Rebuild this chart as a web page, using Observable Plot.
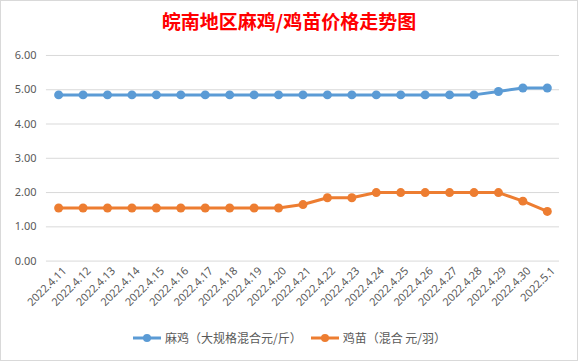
<!DOCTYPE html>
<html><head><meta charset="utf-8">
<script src="https://cdn.jsdelivr.net/npm/d3@7"></script>
<script src="https://cdn.jsdelivr.net/npm/@observablehq/plot@0.6"></script>
<style>
body{margin:0;background:#fff;font-family:"Noto Sans CJK SC","Noto Sans",sans-serif;}
#wrap{position:relative;width:578px;height:361px;box-sizing:border-box;border:1px solid #d9d9d9;overflow:hidden;}
#title{position:absolute;top:8px;left:0;width:576px;text-align:center;color:#ff0000;font-weight:bold;font-size:19px;line-height:24px;font-family:"Noto Sans CJK SC",serif;}
#chart{position:absolute;top:34px;left:-1px;}
#legend{position:absolute;top:329px;left:0;width:576px;display:flex;justify-content:center;gap:8px;font-size:12px;color:#595959;line-height:16px;}
#legend span{display:inline-flex;align-items:center;}
</style></head>
<body><div id="wrap"><div id="title">皖南地区麻鸡/鸡苗价格走势图</div><div id="chart"></div><div id="legend"></div></div>
<script>
const dates = ["2022.4.11","2022.4.12","2022.4.13","2022.4.14","2022.4.15","2022.4.16","2022.4.17","2022.4.18","2022.4.19","2022.4.20","2022.4.21","2022.4.22","2022.4.23","2022.4.24","2022.4.25","2022.4.26","2022.4.27","2022.4.28","2022.4.29","2022.4.30","2022.5.1"];
const maji = [4.85,4.85,4.85,4.85,4.85,4.85,4.85,4.85,4.85,4.85,4.85,4.85,4.85,4.85,4.85,4.85,4.85,4.85,4.95,5.05,5.05];
const jimiao = [1.55,1.55,1.55,1.55,1.55,1.55,1.55,1.55,1.55,1.55,1.65,1.85,1.85,2.0,2.0,2.0,2.0,2.0,2.0,1.75,1.45];
const seriesNames = ["麻鸡（大规格混合元/斤）","鸡苗（混合 元/羽）"];
const colors = ["#5b9bd5","#ed7d31"];
const yTicks = [0,1,2,3,4,5,6];

const data = [];
dates.forEach((d,i)=>{data.push({date:d,value:maji[i],s:seriesNames[0]});data.push({date:d,value:jimiao[i],s:seriesNames[1]});});

const plot = Plot.plot({
  width: 578, height: 296,
  marginTop: 20, marginBottom: 70, marginLeft: 46, marginRight: 18,
  style: {fontFamily: "'Noto Sans','Noto Sans CJK SC',sans-serif", fontSize: "11px", color: "#595959", background: "transparent"},
  x: {type: "point", domain: dates, padding: 0.5, round: false, label: null},
  y: {domain: [0,6], label: null},
  color: {domain: seriesNames, range: colors},
  marks: [
    Plot.gridY(yTicks, {stroke: "#d9d9d9", strokeOpacity: 1, strokeWidth: 1}),
    Plot.axisY(yTicks, {tickSize: 0, tickPadding: 10, tickFormat: d => d.toFixed(2), label: null, fill: "#595959"}),
    Plot.axisX({tickSize: 0, tickRotate: -45, tickPadding: 4, label: null, fill: "#595959", textAnchor: "end", dx: 6, dy: 4}),
    Plot.line(data, {x: "date", y: "value", z: "s", stroke: "s", strokeWidth: 3}),
    Plot.dot(data, {x: "date", y: "value", fill: "s", r: 4.5})
  ]
});
document.getElementById("chart").appendChild(plot);

const leg = document.getElementById("legend");
seriesNames.forEach((n,i)=>{
  const s = document.createElement("span");
  s.innerHTML = `<svg width="30" height="10" style="margin-right:3px"><line x1="1" y1="5" x2="29" y2="5" stroke="${colors[i]}" stroke-width="3"/><circle cx="15" cy="5" r="4" fill="${colors[i]}"/></svg>${n}`;
  leg.appendChild(s);
});
</script></body></html>
